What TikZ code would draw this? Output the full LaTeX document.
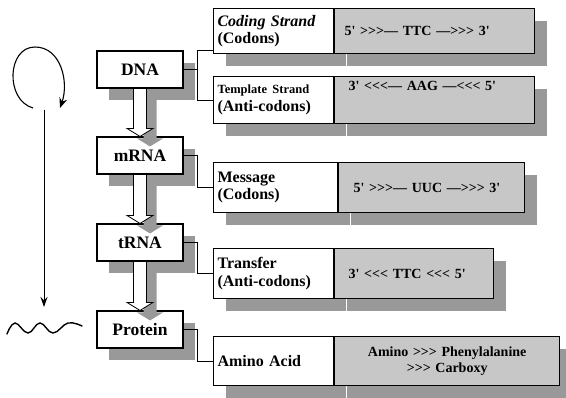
\documentclass[tikz,border=0pt]{standalone}
\usepackage{fontspec}
\setmainfont{Liberation Serif}
% sequence strings keep plain < > ' characters (no TeX ligature mapping)
\newfontfamily\seqfont{Liberation Serif}
\usetikzlibrary{calc,shadows,arrows.meta}
\definecolor{shadowgray}{gray}{0.6}
\definecolor{panelgray}{gray}{0.78}

\begin{document}
\begin{tikzpicture}[x=1pt,y=-1pt,
  shadowed/.style={drop shadow={shadow xshift=12pt,shadow yshift=-12pt,fill=shadowgray,opacity=1}},
  stage/.style={draw,fill=white,line width=1.1pt,minimum width=86pt,minimum height=37pt,
    inner sep=0pt,shadowed,font=\fontsize{17.5}{20}\selectfont\bfseries},
  tag/.style={draw,fill=white,line width=1.1pt,anchor=north west,inner xsep=4pt,inner ysep=1pt,
    align=left,shadowed,font=\fontsize{16}{17.5}\selectfont\bfseries},
  seq/.style={draw,fill=panelgray,line width=1.1pt,anchor=north west,inner xsep=10pt,inner ysep=1pt,
    align=left,shadowed,font=\seqfont\fontsize{14}{16}\selectfont\bfseries},
  conn/.style={line width=0.8pt},
  hollow/.style={draw,fill=white,line width=0.8pt,line join=miter}
]
\useasboundingbox (0,0) rectangle (566,398);

% ---- central dogma stages ----
\node[stage] (dna)  at (140,69.5)  {DNA};
\node[stage] (mrna) at (140,155.5) {mRNA};
\node[stage] (trna) at (140,242.5) {tRNA};
\node[stage] (prot) at (140,329.5) {Protein};

% ---- description rows: label part + sequence part ----
\node[tag,text width=112pt,minimum height=45pt] (codl) at (213,8)
  {\textit{Coding Strand}\\(Codons)};
\node[seq,text width=180pt,minimum height=45pt] (codv) at (codl.north east)
  {5' >>>— TTC —>>> 3'};

\node[tag,text width=112pt,minimum height=47pt] (tmpl) at (213,76)
  {{\fontsize{12.5}{14}\selectfont Template Strand}\\(Anti-codons)};
\node[seq,text width=180pt,minimum height=47pt,text depth=28pt] (tmpv) at (tmpl.north east)
  {\hspace*{4pt}3' <<<— AAG —<<< 5'};

\node[tag,text width=116pt,minimum height=50pt] (msgl) at (213,162)
  {Message\\(Codons)};
\node[seq,text width=166pt,minimum height=50pt] (msgv) at (msgl.north east)
  {\hspace*{5pt}5' >>>— UUC —>>> 3'};

\node[tag,text width=112pt,minimum height=50pt] (trfl) at (213,248)
  {Transfer\\(Anti-codons)};
\node[seq,text width=139pt,minimum height=50pt] (trfv) at (trfl.north east)
  {\hspace*{4pt}3' <<< TTC <<< 5'};

\node[tag,text width=112pt,minimum height=49pt] (amil) at (213,336)
  {Amino Acid};
\node[seq,text width=205pt,minimum height=49pt,align=center] (amiv) at (amil.north east)
  {Amino >>> Phenylalanine\\>>> Carboxy};

% ---- connectors from the stages to their rows ----
\coordinate (jx) at (197,0);
\draw[conn] (dna.east) -- (dna.east -| jx);
\draw[conn] ($(codl.south west)+(0,-4)$) -| (tmpl.west -| jx) -- (tmpl.west);
\draw[conn] (mrna.east) -| (msgl.west -| jx) -- (msgl.west);
\draw[conn] (trna.east) -| (trfl.west -| jx) -- (trfl.west);
\draw[conn] (prot.east) -| (amil.west -| jx) -- (amil.west);

% ---- hollow block arrows between stages, with their shadows ----
\foreach \a/\b in {dna/mrna,mrna/trna,trna/prot}{
  \fill[shadowgray] ($(\a.south)+(3.5,10)$) -- ($(\b.north)+(3.5,2)$) -- ($(\b.north)+(-3,2)$)
    -- ($(\b.north)+(10,10)$) -- ($(\b.north)+(23,2)$) -- ($(\b.north)+(16.5,2)$)
    -- ($(\a.south)+(16.5,10)$) -- cycle;
}
\foreach \a/\b in {dna/mrna,mrna/trna,trna/prot}{
  \path[hollow] ($(\a.south)+(-6.5,0)$) -- ($(\b.north)+(-6.5,-8)$) -- ($(\b.north)+(-13,-8)$)
    -- (\b.north) -- ($(\b.north)+(13,-8)$) -- ($(\b.north)+(6.5,-8)$)
    -- ($(\a.south)+(6.5,0)$) -- cycle;
}

% ---- left margin: loop, long arrow and wavy chain ----
\draw[line width=1.1pt,-{Stealth[length=10pt,width=8pt]}]
  (33,108) .. controls (5,100) and (7,47) .. (35,47)
  .. controls (61,47) and (69,82) .. (60,108);
\draw[line width=1pt,-{Stealth[length=10pt,width=7pt]}] (44,110) -- (44,307);
\draw[line width=1.4pt,line cap=round] plot[smooth,tension=0.7] coordinates
  {(7,334) (15,323) (28,333) (40,323) (53,333) (68,323) (82,326)};
\end{tikzpicture}
\end{document}
